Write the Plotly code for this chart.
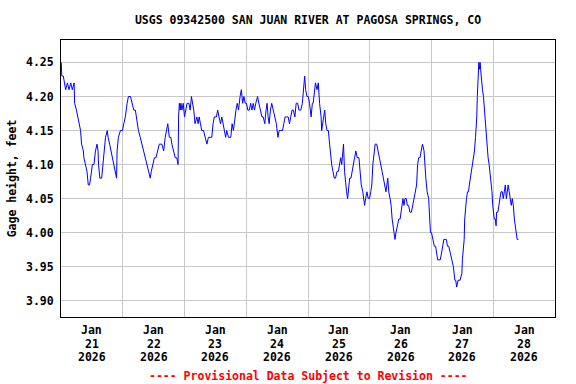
import pandas as pd
import plotly.graph_objects as go

# hours since 2026-01-21 00:00 and gage height (ft)
hours = [0.1, 0.3, 0.9, 1.4, 1.8, 2.5, 3.1, 3.8, 4.4, 5.1, 5.3, 6.0, 6.6, 7.0, 7.6, 8.0, 8.7, 8.9,
         9.6, 10.1, 10.6, 11.1, 11.5, 12.2, 12.8, 13.4, 14.0, 14.4, 14.6, 15.1, 15.8, 16.3, 16.7,
         17.3, 18.0, 18.3, 18.9, 19.5, 20.0, 20.6, 21.2, 21.6, 21.8, 22.3, 23.1, 23.9, 24.4, 25.0,
         25.7, 26.2, 27.0, 27.8, 28.3, 28.9, 29.6, 30.1, 30.8, 31.5, 32.2, 32.8,
         33.4, 34.1, 34.7, 35.1, 35.8, 36.3, 36.9, 37.6, 38.2, 39.2, 39.9, 40.5, 41.0, 41.5, 42.1,
         42.7, 43.1, 43.8, 44.4, 45.0, 45.3, 45.5, 45.7, 46.0, 46.3, 46.6, 47.0, 47.5, 48.0, 48.5,
         49.0, 49.7, 50.2, 50.7, 51.1, 51.6, 52.1, 52.8, 53.3, 53.7, 54.2, 54.7, 55.4, 56.0, 56.7,
         57.3, 57.9, 58.6, 59.1, 59.6, 60.4, 60.9, 61.4, 62.0, 62.5, 63.0, 63.5, 64.0,
         64.4, 65.1, 66.0, 66.5, 67.0, 67.5, 68.0, 68.5, 69.0, 69.6, 70.1, 70.6, 71.1, 71.6, 72.1,
         72.6, 73.2, 73.7, 74.2, 74.7, 75.2, 75.7, 76.4, 76.9, 77.4, 78.1, 78.6, 79.2, 79.7, 80.1,
         80.5, 80.9, 81.4, 81.9, 82.5, 83.1, 83.7, 84.3, 84.8, 85.4, 86.1, 86.6, 87.1, 87.6, 88.3,
         88.8, 89.3, 89.8, 90.3, 90.9, 91.4, 92.0, 92.5, 93.2, 93.8, 94.3, 94.7, 95.1, 95.6, 96.1,
         96.6, 97.2, 97.7,
         98.0, 98.5, 98.9, 99.5, 100.0, 100.5, 101.1, 101.3, 101.6, 102.1, 102.5, 102.9, 103.4,
         103.9, 104.4, 104.8, 105.2, 105.7, 106.2, 106.7, 107.3, 107.8, 108.3, 108.7, 109.1, 109.4,
         109.8, 110.2, 110.6, 111.0, 111.4, 111.8, 112.2, 112.7, 113.1, 113.6, 114.1, 114.6, 115.1,
         115.8, 116.3, 116.7, 117.3, 117.7, 118.0, 118.4, 118.9, 119.4, 119.9, 120.4, 120.8, 121.2,
         121.7, 122.1, 122.7, 123.3, 123.8, 124.3, 124.8, 125.3, 125.8, 126.3,
         127.0, 127.4, 127.9, 128.3, 128.7, 129.1, 129.5, 129.8, 130.2, 130.7, 131.3, 131.8, 132.2,
         132.5, 132.9, 133.3, 133.7, 134.2, 134.6, 135.1, 135.6, 136.2, 136.7, 137.2, 137.7, 138.2,
         138.6, 139.0, 139.5, 140.0, 140.5, 141.1, 141.4, 141.8, 142.3, 142.9, 143.3, 143.6, 144.0,
         144.5, 145.1, 145.6, 146.0, 146.4, 146.9, 147.4, 147.9, 148.4, 148.8, 149.3, 149.8, 150.2,
         150.7, 151.3, 151.8,
         152.5, 153.1, 153.4, 153.8, 154.3, 155.1, 155.8, 156.0, 156.4, 156.7, 156.9, 157.2, 157.6,
         158.0, 158.4, 158.7, 159.1, 159.5, 159.9, 160.3, 160.7, 161.1, 161.3, 161.6, 161.8, 162.1,
         162.4, 162.6, 162.9, 163.1, 163.4, 163.8, 164.2, 164.4, 164.8, 165.2, 165.6, 166.0, 166.4,
         166.7, 167.1, 167.5, 167.8, 168.0, 168.4, 168.8, 169.1, 169.3, 169.8, 170.2, 170.6, 171.0,
         171.5, 171.9, 172.3, 172.7, 173.1, 173.4, 173.8, 174.2, 174.6, 175.0, 175.4, 175.8, 176.2,
         176.5, 176.9, 177.3, 177.8]

gage_ft = [4.25, 4.23, 4.23, 4.22, 4.21, 4.22, 4.21, 4.22, 4.21, 4.22, 4.19, 4.18, 4.17, 4.16, 4.15, 4.13, 4.12, 4.11,
           4.10, 4.09, 4.07, 4.07, 4.08, 4.10, 4.10, 4.12, 4.13, 4.12, 4.10, 4.08, 4.08, 4.10, 4.12,
           4.14, 4.15, 4.14, 4.13, 4.12, 4.11, 4.10, 4.09, 4.08, 4.12, 4.14, 4.15, 4.15, 4.16, 4.17,
           4.19, 4.20, 4.20, 4.19, 4.18, 4.18, 4.16, 4.15, 4.14, 4.13, 4.12, 4.11,
           4.10, 4.09, 4.08, 4.09, 4.10, 4.11, 4.11, 4.12, 4.13, 4.13, 4.12, 4.14, 4.15, 4.16, 4.14,
           4.14, 4.13, 4.12, 4.11, 4.11, 4.10, 4.10, 4.17, 4.19, 4.18, 4.19, 4.18, 4.19, 4.17, 4.18,
           4.19, 4.19, 4.18, 4.20, 4.19, 4.18, 4.16, 4.17, 4.16, 4.17, 4.16, 4.15, 4.15, 4.14, 4.13,
           4.14, 4.14, 4.14, 4.16, 4.17, 4.17, 4.18, 4.17, 4.16, 4.17, 4.16, 4.15, 4.14,
           4.15, 4.14, 4.14, 4.16, 4.15, 4.17, 4.18, 4.19, 4.18, 4.20, 4.21, 4.19, 4.20, 4.19, 4.19,
           4.18, 4.18, 4.19, 4.18, 4.19, 4.18, 4.19, 4.20, 4.19, 4.18, 4.17, 4.17, 4.16, 4.18, 4.19,
           4.17, 4.16, 4.18, 4.19, 4.18, 4.17, 4.16, 4.14, 4.15, 4.15, 4.15, 4.16, 4.17, 4.17, 4.17,
           4.16, 4.17, 4.18, 4.18, 4.17, 4.19, 4.19, 4.18, 4.18, 4.19, 4.21, 4.23, 4.21, 4.20, 4.20,
           4.19, 4.17, 4.19,
           4.19, 4.21, 4.22, 4.21, 4.22, 4.19, 4.17, 4.15, 4.16, 4.17, 4.18, 4.16, 4.15,
           4.15, 4.13, 4.11, 4.10, 4.09, 4.08, 4.08, 4.09, 4.09, 4.10, 4.11, 4.10, 4.11,
           4.13, 4.09, 4.07, 4.06, 4.05, 4.07, 4.08, 4.08, 4.09, 4.10, 4.11, 4.12, 4.11,
           4.11, 4.09, 4.07, 4.06, 4.05, 4.04, 4.05, 4.06, 4.05, 4.05, 4.06, 4.07, 4.10,
           4.12, 4.13, 4.13, 4.12, 4.11, 4.10, 4.09, 4.08, 4.07, 4.06,
           4.08, 4.06, 4.05, 4.04, 4.02, 4.01, 4.00, 3.99, 4.00, 4.01, 4.02, 4.02, 4.03,
           4.04, 4.05, 4.04, 4.05, 4.05, 4.04, 4.04, 4.03, 4.03, 4.04, 4.05, 4.06, 4.07,
           4.10, 4.11, 4.11, 4.12, 4.13, 4.12, 4.10, 4.08, 4.06, 4.05, 4.02, 4.00, 4.00,
           3.99, 3.98, 3.98, 3.97, 3.96, 3.96, 3.96, 3.97, 3.98, 3.99, 3.99, 3.99, 3.98,
           3.98, 3.97, 3.96,
           3.95, 3.93, 3.93, 3.92, 3.93, 3.93, 3.94, 3.96, 3.98, 3.99, 4.02, 4.04, 4.05,
           4.06, 4.06, 4.07, 4.08, 4.09, 4.10, 4.11, 4.12, 4.14, 4.15, 4.17, 4.20, 4.24,
           4.25, 4.24, 4.25, 4.24, 4.22, 4.21, 4.20, 4.19, 4.17, 4.14, 4.13, 4.11, 4.10,
           4.09, 4.08, 4.06, 4.04, 4.03, 4.02, 4.02, 4.01, 4.03, 4.03, 4.04, 4.05, 4.06,
           4.06, 4.05, 4.06, 4.07, 4.05, 4.06, 4.07, 4.06, 4.05, 4.04, 4.05, 4.04, 4.02,
           4.01, 4.00, 3.99, 3.99]

tick_days = ["2026-01-21", "2026-01-22", "2026-01-23", "2026-01-24",
             "2026-01-25", "2026-01-26", "2026-01-27", "2026-01-28"]
tick_month = "Jan"
tick_daynum = ["21", "22", "23", "24", "25", "26", "27", "28"]
tick_year = "2026"
y_ticks = [3.90, 3.95, 4.00, 4.05, 4.10, 4.15, 4.20, 4.25]

base = pd.Timestamp("2026-01-21 00:00")
times = base + pd.to_timedelta(hours, unit="h")

FONT = "DejaVu Sans Mono"
FS = 11.5
PLOT_TOP, PLOT_BOTTOM = 40, 317
PLOT_H = PLOT_BOTTOM - PLOT_TOP


def paper_y(py):
    return (PLOT_BOTTOM - py) / PLOT_H


fig = go.Figure()
fig.add_trace(go.Scatter(x=times, y=gage_ft, mode="lines",
                         line=dict(color="#0000ff", width=1), showlegend=False,
                         hoverinfo="skip"))

tick_noon = [pd.Timestamp(d) + pd.Timedelta(hours=12) for d in tick_days]
midnights = [pd.Timestamp(d) for d in tick_days] + [pd.Timestamp("2026-01-29")]

annotations = []
for t, dn in zip(tick_noon, tick_daynum):
    for txt, py in ((tick_month, 330), (dn, 343.5), (tick_year, 356.5)):
        annotations.append(dict(text=txt, x=t, xref="x", y=paper_y(py), yref="paper",
                                yanchor="middle", xanchor="center", showarrow=False,
                                font=dict(family=FONT, size=FS, color="black", weight="bold")))
annotations.append(dict(text="---- Provisional Data Subject to Revision ----",
                        x=0.5, xref="paper", y=paper_y(376), yref="paper",
                        yanchor="middle", showarrow=False,
                        font=dict(family=FONT, size=FS, color="red", weight="bold")))

fig.update_layout(
    width=576, height=384,
    margin=dict(l=59, r=21, t=PLOT_TOP, b=384 - PLOT_BOTTOM, pad=0),
    paper_bgcolor="white", plot_bgcolor="white",
    title=dict(text="USGS 09342500 SAN JUAN RIVER AT PAGOSA SPRINGS, CO",
               x=0.5, xref="paper", y=1 - 19.5 / 384, yref="container", yanchor="middle",
               font=dict(family=FONT, size=FS, color="black", weight="bold")),
    font=dict(family=FONT, size=FS, color="black", weight="bold"),
    xaxis=dict(type="date", range=[midnights[0], midnights[-1]],
               showticklabels=False, showgrid=False, ticks="", zeroline=False,
               showline=True, linecolor="black", linewidth=1, mirror=True,
               minor=dict(tickvals=midnights, showgrid=True, gridcolor="#c8c8c8",
                          gridwidth=1, ticks="")),
    yaxis=dict(range=[3.876, 4.283], tickmode="array", tickvals=y_ticks,
               ticktext=[f"{v:.2f}" for v in y_ticks],
               showgrid=True, gridcolor="#c8c8c8", gridwidth=1, ticks="", zeroline=False,
               showline=True, linecolor="black", linewidth=1, mirror=True,
               ticklabelstandoff=4,
               title=dict(text="Gage height, feet", standoff=6,
                          font=dict(family=FONT, size=FS, color="black", weight="bold")),
               tickfont=dict(family=FONT, size=FS, color="black", weight="bold")),
    annotations=annotations,
)

fig.write_html("out.html", config={"displayModeBar": False},
               post_script="document.body.style.margin='0px';")
